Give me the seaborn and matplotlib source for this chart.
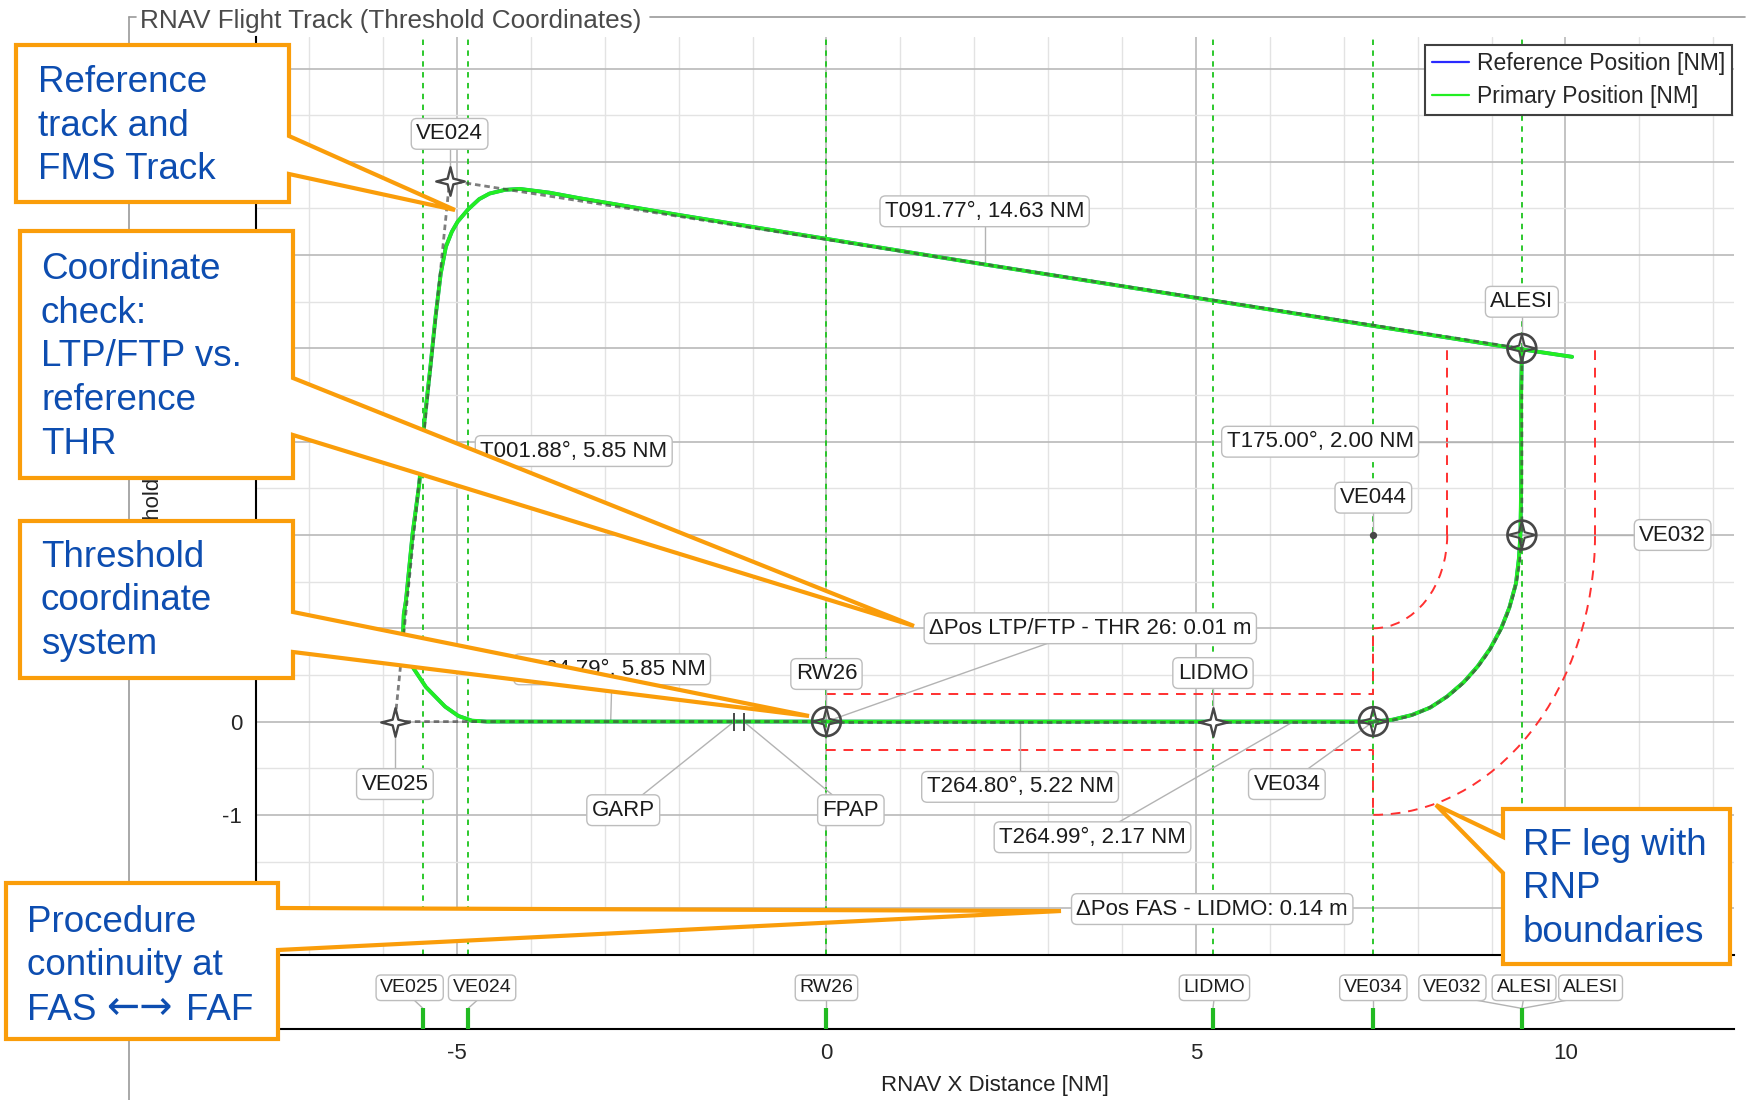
import matplotlib
matplotlib.use("Agg")
import matplotlib.pyplot as plt
import seaborn as sns
from matplotlib.path import Path
from matplotlib.patches import Arc, Polygon
from matplotlib.lines import Line2D
from matplotlib.ticker import MultipleLocator, FuncFormatter

# ------------------------------------------------------------------ data
# flown track (Primary Position) in threshold coordinates [NM]
track_x = [9.41, 9.40, 9.40, 9.40, 9.39, 9.37, 9.33, 9.24, 9.13, 8.98, 8.81, 8.62, 8.40, 8.17, 7.92, 7.66, 7.40,
           5.23, 0.00, -4.60, -4.80, -4.98, -5.16, -5.42, -5.63, -5.73, -5.72, -5.69, -5.60, -5.51, -5.44, -5.36,
           -5.29, -5.22, -5.15, -5.07, -4.99, -4.85, -4.70, -4.56, -4.35, -4.15, -3.75, -3.34, -1.99, 2.14, 9.41, 10.09]
track_y = [4.00, 3.50, 3.00, 2.50, 2.00, 1.75, 1.48, 1.22, 1.00, 0.78, 0.59, 0.42, 0.27, 0.15, 0.07, 0.02, 0.00,
           0.00, 0.00, 0.00, 0.01, 0.06, 0.16, 0.37, 0.62, 0.95, 1.15, 1.30, 2.02, 2.55, 3.23, 3.80,
           4.34, 4.80, 5.09, 5.25, 5.36, 5.49, 5.60, 5.66, 5.70, 5.71, 5.67, 5.61, 5.43, 4.90, 3.99, 3.91]
# reference track (practically identical to the primary one)
ref_x = track_x
ref_y = track_y

# nominal procedure path (RW26 -> VE025 -> VE024 -> ALESI -> VE032, RF leg, VE034 -> LIDMO -> RW26)
nominal_x = [0.00, -5.84, -5.10, 9.41, 9.41]
nominal_y = [0.00, 0.00, 5.80, 4.00, 2.00]
nominal_fas_x = [7.40, 5.23, 0.00]
nominal_fas_y = [0.00, 0.00, 0.00]
rf_center = (7.40, 2.00)
rf_radius = 2.0

# RNP boundaries
rnp_upper_x = [0.00, 7.40, 7.40]
rnp_upper_y = [0.30, 0.30, 1.00]
rnp_lower_x = [0.00, 7.40, 7.40]
rnp_lower_y = [-0.30, -0.30, -1.00]
rnp_arc_radii = [1.0, 3.0]
rnp_inner_x = [8.40, 8.40]
rnp_inner_y = [2.00, 4.00]
rnp_outer_x = [10.40, 10.40]
rnp_outer_y = [2.00, 4.00]

# waypoints
flyby_names = ["VE025", "VE024", "LIDMO"]
flyby_x = [-5.84, -5.10, 5.23]
flyby_y = [0.00, 5.80, 0.00]
flyover_names = ["RW26", "VE034", "VE032", "ALESI"]
flyover_x = [0.00, 7.40, 9.41, 9.41]
flyover_y = [0.00, 0.00, 2.00, 4.00]
center_x = [7.40]          # VE044 (RF centre)
center_y = [2.00]
garp_fpap_x = [-1.25, -1.12]
garp_fpap_y = [0.00, 0.00]

# leg / waypoint labels: text, label position, anchor point
main_labels = [
    ("VE024", -5.10, 6.30, -5.10, 5.80),
    ("T091.77°, 14.63 NM", 2.14, 5.47, 2.14, 4.90),
    ("ALESI", 9.41, 4.50, 9.41, 4.00),
    ("T175.00°, 2.00 NM", 6.68, 3.00, 9.41, 3.00),
    ("VE044", 7.40, 2.40, 7.40, 2.00),
    ("VE032", 11.45, 2.00, 9.41, 2.00),
    ("T001.88°, 5.85 NM", -3.42, 2.90, -5.47, 2.90),
    ("ΔPos LTP/FTP - THR 26: 0.01 m", 3.57, 1.00, 0.00, 0.00),
    ("RW26", 0.00, 0.51, 0.00, 0.00),
    ("LIDMO", 5.23, 0.52, 5.23, 0.00),
    ("T264.79°, 5.85 NM", -2.90, 0.56, -2.92, 0.00),
    ("VE025", -5.84, -0.67, -5.84, 0.00),
    ("GARP", -2.75, -0.95, -1.25, 0.00),
    ("FPAP", 0.33, -0.95, -1.12, 0.00),
    ("T264.80°, 5.22 NM", 2.62, -0.70, 2.62, 0.00),
    ("VE034", 6.23, -0.67, 7.40, 0.00),
    ("T264.99°, 2.17 NM", 3.60, -1.24, 6.32, 0.00),
    ("ΔPos FAS - LIDMO: 0.14 m", 5.22, -2.01, None, None),
]

# sequence strip
strip_tick_x = [-5.46, -4.85, 0.00, 5.23, 7.40, 9.41]
strip_names = ["VE025", "VE024", "RW26", "LIDMO", "VE034", "VE032", "ALESI", "ALESI"]
strip_label_x = [-5.64, -4.66, 0.00, 5.25, 7.40, 8.47, 9.44, 10.34]
strip_tick_idx = [0, 1, 2, 3, 4, 5, 5, 5]

# y tick labels that are not covered by the call-out boxes
y_labels_shown = [0, -1]

legend_labels = ["Reference Position [NM]", "Primary Position [NM]"]
title = "RNAV Flight Track (Threshold Coordinates)"
xlabel = "RNAV X Distance [NM]"
ylabel = "RNAV Y Threshold [NM]"

# call-outs: text pieces (text, x, y, font family, size), outline polygon (figure pixels)
callouts = [
    ([("Reference\ntrack and\nFMS Track", 38, 126, None, 26.5)],
     [(16, 45), (289, 45), (289, 136), (455, 210), (289, 174), (289, 202), (16, 202)]),
    ([("Coordinate\ncheck:\nLTP/FTP vs.\nreference\nTHR", 41, 357, None, 26.5)],
     [(20, 231), (293, 231), (293, 378), (914, 626), (293, 435), (293, 478), (20, 478)]),
    ([("Threshold\ncoordinate\nsystem", 41, 601, None, 26.5)],
     [(20, 521), (293, 521), (293, 612), (809, 716), (293, 652), (293, 678), (20, 678)]),
    ([("Procedure\ncontinuity at", 27, 944, None, 26.5),
      ("FAS", 27, 1010, None, 26.5), ("←→", 106, 1008, 'DejaVu Sans', 28.5), ("FAF", 186, 1010, None, 26.5)],
     [(6, 883), (278, 883), (278, 908), (1061, 911), (278, 950), (278, 1039), (6, 1039)]),
    ([("RF leg with\nRNP\nboundaries", 1523, 889, None, 26.5)],
     [(1503, 809), (1730, 809), (1730, 964), (1503, 964), (1503, 873), (1436, 805), (1503, 837)]),
]

# ------------------------------------------------------------------ style
sns.set_style("white")
plt.rcParams['font.family'] = ['Liberation Sans', 'DejaVu Sans']
plt.rcParams['axes.unicode_minus'] = False

GREEN = '#22ee22'
BLUE = '#2a2aff'
VGREEN = '#1cc41c'
RED = '#ff3030'
DARK = '#474747'
LEADER = '#b3b3b3'
ORANGE = '#FA9D0A'
CALLBLUE = '#0D4DB0'

fig = plt.figure(figsize=(17.52, 11.0), dpi=100)
fig.patch.set_facecolor('white')
ax = fig.add_axes([0.1461, 0.1315, 0.8436, 0.8350])
ax2 = fig.add_axes([0.1461, 0.0645, 0.8436, 0.0670], sharex=ax)
ax2.patch.set_alpha(0)

ax.set_xlim(-7.72, 12.28)
ax.set_ylim(-2.506, 7.34)

# grid
ax.xaxis.set_major_locator(MultipleLocator(5))
ax.xaxis.set_minor_locator(MultipleLocator(1))
ax.yaxis.set_major_locator(MultipleLocator(1))
ax.yaxis.set_minor_locator(MultipleLocator(0.5))
ax.yaxis.set_major_formatter(FuncFormatter(
    lambda v, p: (f"{v:.0f}" if any(abs(v - s) < 1e-6 for s in y_labels_shown) else "")))
ax.grid(which='major', color='#b9b9b9', lw=1.2)
ax.grid(which='minor', color='#e3e3e3', lw=1.0)
ax.set_axisbelow(True)

# vertical waypoint reference lines
for xv in strip_tick_x:
    ax.axvline(xv, color=VGREEN, lw=1.3, ls=(0, (3, 3)), zorder=2)

# RNP boundaries
rnp_kw = dict(color=RED, lw=1.4, ls=(0, (5, 4)), zorder=3)
for xs, ys in [(rnp_upper_x, rnp_upper_y), (rnp_lower_x, rnp_lower_y),
               (rnp_inner_x, rnp_inner_y), (rnp_outer_x, rnp_outer_y)]:
    ax.plot(xs, ys, **rnp_kw)
for r in rnp_arc_radii:
    ax.add_patch(Arc(rf_center, 2 * r, 2 * r, theta1=270, theta2=360,
                     edgecolor=RED, lw=1.4, ls=(0, (5, 4)), zorder=3))

# leaders
for name, tx, ty, px, py in main_labels:
    if px is not None:
        ax.plot([tx, px], [ty, py], color=LEADER, lw=1.0, zorder=3.5)

# tracks
sns.lineplot(x=ref_x, y=ref_y, sort=False, estimator=None, color=BLUE, lw=2.6, ax=ax, zorder=4, legend=False)
sns.lineplot(x=track_x, y=track_y, sort=False, estimator=None, color=GREEN, lw=2.8, ax=ax, zorder=5, legend=False)

# nominal procedure path
nom_kw = dict(color=DARK, lw=2.0, ls=(0, (2, 1.4)), alpha=0.7, zorder=6)
ax.plot(nominal_x, nominal_y, **nom_kw)
ax.plot(nominal_fas_x, nominal_fas_y, **nom_kw)
ax.add_patch(Arc(rf_center, 2 * rf_radius, 2 * rf_radius, theta1=270, theta2=360,
                 edgecolor=DARK, lw=2.0, ls=(0, (2, 1.4)), alpha=0.7, zorder=6))

# waypoint symbols
star = Path([(0, 1), (0.2, 0.2), (1, 0), (0.2, -0.2), (0, -1), (-0.2, -0.2), (-1, 0), (-0.2, 0.2), (0, 1)],
            [Path.MOVETO] + [Path.LINETO] * 7 + [Path.CLOSEPOLY])
ax.scatter(flyby_x, flyby_y, marker=star, s=420, facecolor='white', edgecolor=DARK, linewidths=1.7, zorder=7)
ax.scatter(flyover_x, flyover_y, marker='o', s=430, facecolor='none', edgecolor=DARK, linewidths=1.9, zorder=7)
ax.scatter(flyover_x, flyover_y, marker=star, s=400, facecolor='none', edgecolor=DARK, linewidths=1.5, zorder=7)
ax.scatter(center_x, center_y, marker='o', s=18, color=DARK, zorder=7)
ax.scatter(garp_fpap_x, garp_fpap_y, marker='|', s=160, color=DARK, linewidths=1.4, zorder=7)

# labels
box = dict(boxstyle='round,pad=0.22,rounding_size=0.25', fc='white', ec='#bdbdbd', lw=1.0)
for name, tx, ty, px, py in main_labels:
    ax.text(tx, ty, name, ha='center', va='center', fontsize=16, color='#1c1c1c', bbox=box, zorder=9)

# axes cosmetics
for s in ['top', 'right']:
    ax.spines[s].set_visible(False)
for s in ['left', 'bottom']:
    ax.spines[s].set_color('black')
    ax.spines[s].set_linewidth(1.5)
ax.tick_params(axis='x', which='both', labelbottom=False, direction='out', color='black')
ax.tick_params(axis='x', which='major', length=5, width=1.2)
ax.tick_params(axis='x', which='minor', length=4, width=1.0)
ax.tick_params(axis='y', which='major', length=5, width=1.2, labelsize=16, pad=5, direction='out')
ax.tick_params(axis='y', which='minor', length=3.5, width=1.0, direction='out')
ax.set_xlabel("")
ax.set_ylabel(ylabel, fontsize=16, color='#222222')
ax.yaxis.set_label_coords(-0.062, 0.448)

legend_handles = [Line2D([], [], color=BLUE, lw=1.6), Line2D([], [], color=GREEN, lw=1.6)]
leg = ax.legend(legend_handles, legend_labels, loc='upper right', bbox_to_anchor=(0.9985, 0.9915),
                borderaxespad=0, fontsize=16.5, frameon=True, fancybox=False, edgecolor='#404040',
                framealpha=1, handlelength=1.6, handletextpad=0.35, borderpad=0.3, labelspacing=0.45)
leg.get_frame().set_linewidth(1.5)
leg.set_zorder(12)

# sequence strip
ax2.set_ylim(0, 1)
ax2.set_yticks([])
for s in ['top', 'right', 'left']:
    ax2.spines[s].set_visible(False)
ax2.spines['bottom'].set_color('black')
ax2.spines['bottom'].set_linewidth(1.5)
ax2.grid(False)
ax2.vlines(strip_tick_x, 0, 0.28, color='#22bb22', lw=3, zorder=3)
sbox = dict(boxstyle='round,pad=0.22,rounding_size=0.25', fc='white', ec='#bdbdbd', lw=1.0)
for name, lx, ti in zip(strip_names, strip_label_x, strip_tick_idx):
    ax2.plot([lx, strip_tick_x[ti]], [0.45, 0.28], color=LEADER, lw=1.0, zorder=2)
    ax2.text(lx, 0.56, name, ha='center', va='center', fontsize=14, color='#1c1c1c', bbox=sbox, zorder=5)
ax2.tick_params(axis='x', which='major', length=6, width=1.2, labelsize=16, direction='out', pad=4)
ax2.tick_params(axis='x', which='minor', length=4, width=1.0, direction='out')
ax2.set_xlabel(xlabel, fontsize=16, color='#222222', labelpad=8)
ax2.set_ylabel("")

# overlay: group frame, title, callouts
ov = fig.add_axes([0, 0, 1, 1], zorder=20)
ov.set_xlim(0, 1752)
ov.set_ylim(1100, 0)
ov.axis('off')
frame_kw = dict(color='#9a9a9a', lw=1.2, zorder=1)
ov.plot([128.5, 128.5], [1100, 17], **frame_kw)
ov.plot([128.5, 136], [17, 17], **frame_kw)
ov.plot([650, 1745], [17, 17], **frame_kw)
ov.text(140, 21, title, fontsize=18.8, color='#4a4a4a', ha='left', va='center', zorder=2)

for pieces, verts in callouts:
    ov.add_patch(Polygon(verts, closed=True, facecolor='white', edgecolor=ORANGE, lw=3.0,
                         joinstyle='miter', zorder=5))
    for text, tx, ty, fam, fs in pieces:
        kw = {} if fam is None else {'family': [fam]}
        ov.text(tx, ty, text, fontsize=fs, color=CALLBLUE, ha='left', va='center',
                linespacing=1.33, zorder=6, **kw)

fig.savefig("out.png", dpi=100, facecolor='white')
